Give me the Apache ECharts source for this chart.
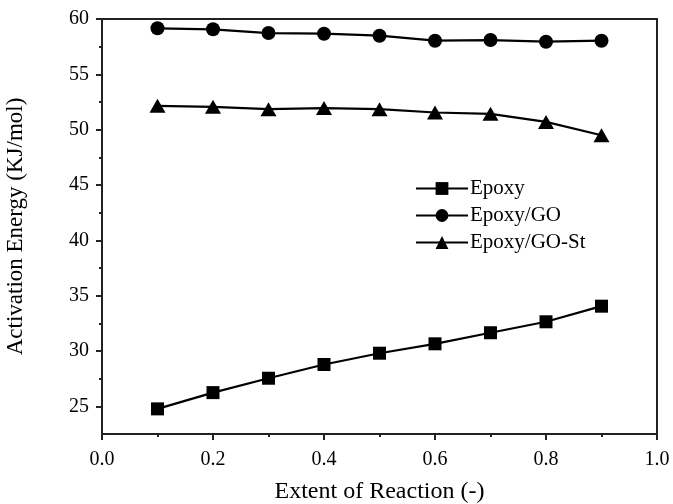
<!DOCTYPE html>
<html>
<head>
<meta charset="utf-8">
<script src="https://cdn.jsdelivr.net/npm/echarts@6/dist/echarts.min.js"></script>
<style>html,body{margin:0;padding:0;background:#fff}#c{width:673px;height:504px}</style>
</head>
<body>
<div id="c"></div>
<script>
var extent = [0.1, 0.2, 0.3, 0.4, 0.5, 0.6, 0.7, 0.8, 0.9];
var epoxy = [24.77, 26.24, 27.54, 28.78, 29.8, 30.65, 31.65, 32.64, 34.05];
var epoxyGO = [59.16, 59.07, 58.73, 58.67, 58.49, 58.04, 58.1, 57.95, 58.04];
var epoxyGOSt = [52.15, 52.06, 51.85, 51.95, 51.85, 51.55, 51.43, 50.7, 49.5];
var seriesNames = ['Epoxy', 'Epoxy/GO', 'Epoxy/GO-St'];
var yMajorTicks = [25, 30, 35, 40, 45, 50, 55, 60];
var yMinorTicks = [27.5, 32.5, 37.5, 42.5, 47.5, 52.5, 57.5];

function pairs(xs, ys) { return xs.map(function (x, i) { return [x, ys[i]]; }); }

var font = 'Liberation Serif';
var axisColor = '#222';
var chart = echarts.init(document.getElementById('c'), null, { renderer: 'canvas' });
var lineStyle = { color: '#000', width: 2.2 };
var itemStyle = { color: '#000' };

chart.setOption({
  backgroundColor: '#fff',
  animation: false,
  textStyle: { fontFamily: font, color: '#000' },
  grid: { left: 102, right: 16, top: 19, bottom: 70, containLabel: false, outerBoundsMode: 'none' },
  legend: {
    data: seriesNames,
    orient: 'vertical',
    left: 410,
    top: 173,
    itemWidth: 52,
    itemHeight: 16,
    itemGap: 6,
    textStyle: { fontFamily: font, fontSize: 21, color: '#000', padding: [0, 0, 0, -3] }
  },
  xAxis: [{
    type: 'value',
    min: 0, max: 1, interval: 0.2,
    name: 'Extent of Reaction (-)',
    nameLocation: 'middle',
    nameGap: 46,
    nameTextStyle: { fontFamily: font, fontSize: 24, color: '#000' },
    axisLine: { show: true, onZero: false, lineStyle: { color: axisColor, width: 2 } },
    axisTick: { show: true, length: 6, lineStyle: { color: axisColor, width: 2 } },
    minorTick: { show: true, splitNumber: 2, length: 3, lineStyle: { color: axisColor, width: 2 } },
    splitLine: { show: false },
    axisLabel: { fontFamily: font, fontSize: 20, color: '#000', margin: 16,
      formatter: function (v) { return v.toFixed(1); } }
  }, {
    type: 'value', position: 'top', min: 0, max: 1,
    axisLine: { show: true, onZero: false, lineStyle: { color: axisColor, width: 2 } },
    axisTick: { show: false }, axisLabel: { show: false }, splitLine: { show: false }
  }],
  yAxis: [{
    type: 'value',
    min: 22.5, max: 60, interval: 2.5,
    name: 'Activation Energy (KJ/mol)',
    nameLocation: 'middle',
    nameGap: 75,
    nameTextStyle: { fontFamily: font, fontSize: 23, color: '#000' },
    axisLine: { show: true, onZero: false, lineStyle: { color: axisColor, width: 2 } },
    axisTick: { show: true, length: 6, customValues: yMajorTicks, lineStyle: { color: axisColor, width: 2 } },
    splitLine: { show: false },
    axisLabel: { fontFamily: font, fontSize: 20, color: '#000', margin: 13, customValues: yMajorTicks }
  }, {
    type: 'value', position: 'left',
    min: 22.5, max: 60, interval: 2.5,
    axisLine: { show: false },
    axisTick: { show: true, length: 3, customValues: yMinorTicks, lineStyle: { color: axisColor, width: 2 } },
    axisLabel: { show: false }, splitLine: { show: false }
  }, {
    type: 'value', position: 'right', min: 22.5, max: 60,
    axisLine: { show: true, onZero: false, lineStyle: { color: axisColor, width: 2 } },
    axisTick: { show: false }, axisLabel: { show: false }, splitLine: { show: false }
  }],
  series: [{
    name: seriesNames[0], type: 'line', data: pairs(extent, epoxy),
    symbol: 'rect', symbolSize: 13, lineStyle: lineStyle, itemStyle: itemStyle
  }, {
    name: seriesNames[1], type: 'line', data: pairs(extent, epoxyGO),
    symbol: 'circle', symbolSize: 14, lineStyle: lineStyle, itemStyle: itemStyle
  }, {
    name: seriesNames[2], type: 'line', data: pairs(extent, epoxyGOSt),
    symbol: 'triangle', symbolSize: [16, 14], lineStyle: lineStyle, itemStyle: itemStyle
  }]
});
</script>
</body>
</html>
